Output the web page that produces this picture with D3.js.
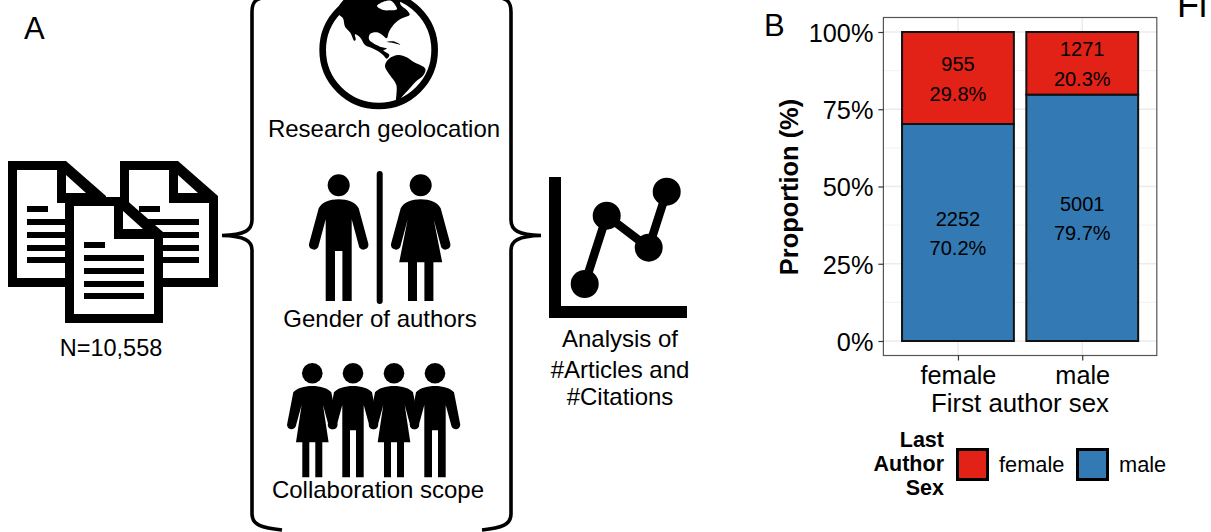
<!DOCTYPE html>
<html>
  <head>
    <title></title>
    <script src="https://d3js.org/d3.v7.min.js"></script>
    <style>
      html, body { margin: 0; background: #fff; }
      svg { display: block; }
      text { font-family: "Liberation Sans", Arial, sans-serif; fill: #000; }
      .grid-major { stroke: #ebebeb; stroke-width: 1.5; }
      .grid-minor { stroke: #efefef; stroke-width: 0.8; }
    </style>
  </head>
  <body>
    <script type="text/javascript">

    var width = 1211,
        height = 532;

    // panel B values: counts of last author sex per first author sex
    var firstAuthor = ["female", "male"];
    var lastAuthor = ["male", "female"];
    var maleLast = [2252, 5001];
    var femaleLast = [955, 1271];
    var maleLabels = ["70.2%", "79.7%"];
    var femaleLabels = ["29.8%", "20.3%"];
    var yTicks = [0, 0.25, 0.5, 0.75, 1];
    var yMinorTicks = [0.125, 0.375, 0.625, 0.875];
    var colors = {female: "#e22117", male: "#337ab4"};

    var svg = d3.select("body").append("svg")
        .attr("width", width)
        .attr("height", height);

    function label(s, x, y, size, anchor, bold) {
      return svg.append("text")
          .attr("x", x)
          .attr("y", y)
          .attr("font-size", size)
          .attr("text-anchor", anchor || "middle")
          .attr("font-weight", bold ? "bold" : null)
          .text(s);
    }

    // ---- panel A ----

    label("A", 24, 39, 31, "start");
    label("B", 764, 36, 31, "start");
    label("Fi", 1177, 17, 36, "start");

    function documentIcon(x, y) {
      var g = svg.append("g").attr("transform", "translate(" + x + "," + y + ")");
      g.append("path").attr("d", "M0,0H58L98,35V126H0Z").attr("fill", "#000");
      g.append("path").attr("d", "M9,9H49V42H89V117H9Z").attr("fill", "#fff");
      g.append("path").attr("d", "M58,14V32H78Z").attr("fill", "#fff");
      [[48, 40], [61, 60], [74, 60], [87, 60], [99, 60]].forEach(function(d) {
        g.append("rect")
            .attr("x", 19).attr("y", d[0] - 3)
            .attr("width", d[1] === 40 ? 21 : d[1]).attr("height", 6)
            .attr("fill", "#000");
      });
    }

    documentIcon(8, 161);
    documentIcon(120, 161);
    documentIcon(65, 197);

    // curly braces
    var braces = svg.append("g")
        .attr("fill", "none")
        .attr("stroke", "#000")
        .attr("stroke-width", 3.6);

    braces.append("path")
        .attr("d", "M262,-2C255,-1 252,3 252,12V220C252,230 245,235 222,235.5C245,236 252,241 252,250V514C252,525 262,528 282,530");
    braces.append("path")
        .attr("d", "M501,-2C508,-1 511,3 511,12V220C511,230 518,235 541,235.5C518,236 511,241 511,250V514C511,525 501,528 482,530");

    // globe
    var globe = svg.append("g").attr("transform", "translate(315,0) scale(0.3333)");
    globe.append("circle")
        .attr("cx", 191).attr("cy", 150).attr("r", 168)
        .attr("fill", "#fff").attr("stroke", "#000").attr("stroke-width", 20);

    var continentLine = d3.line().curve(d3.curveCatmullRomClosed.alpha(0.5));

    var northAmerica = [[66, 36], [84, 55], [90, 80], [106, 98], [118, 122], [122, 120], [120, 103], [135, 112],
      [150, 135], [175, 146], [192, 155], [205, 166], [215, 176], [223, 165], [205, 151], [216, 146], [195, 140],
      [175, 130], [162, 118], [165, 102], [185, 97], [202, 105], [215, 115], [222, 95], [240, 70], [258, 56],
      [284, 44], [275, 30], [258, 16], [250, -8], [180, -20], [100, -12]];
    var southAmerica = [[210, 198], [222, 176], [250, 165], [275, 172], [296, 186], [331, 206], [325, 226],
      [302, 245], [285, 264], [258, 294], [244, 312], [244, 255], [225, 226]];
    var hudson = [[186, 18], [205, 5], [228, 2], [240, 14], [246, 28], [225, 31], [205, 30]];
    var cuba = [[214, 126], [235, 124], [256, 134], [235, 129]];

    globe.append("path").attr("d", continentLine(northAmerica)).attr("fill", "#000");
    globe.append("path").attr("d", continentLine(southAmerica)).attr("fill", "#000");
    globe.append("path").attr("d", continentLine(hudson)).attr("fill", "#fff");
    globe.append("path").attr("d", continentLine(cuba)).attr("fill", "#000");

    label("Research geolocation", 384, 137, 24);

    // people, drawn around the head centre
    var manBody = "M0,14C9,14 17,17 20,23L29.5,58A5,5 0 0 1 20.5,62L13,34V115.7H3.7V65.7H-3.7V115.7H-13V34L-20.5,62A5,5 0 0 1 -29.5,58L-20,23C-17,17 -9,14 0,14Z";
    var womanBody = "M0,14C9,14 17,17 20,23L29.5,58A5,5 0 0 1 20.5,62L13,34L21.5,77H12.7V115.7H3.7V77H-3.7V115.7H-12.7V77H-21.5L-13,34L-20.5,62A5,5 0 0 1 -29.5,58L-20,23C-17,17 -9,14 0,14Z";
    // the holding hands group has its own narrower figures
    var groupMan = "M0,12.7C8,12.7 16,15 19,19L25,50A4.5,4.5 0 0 1 16.5,53L10.7,31.7V104H3V57H-3V104H-10.7V31.7L-16.5,53A4.5,4.5 0 0 1 -25,50L-19,19C-16,15 -8,12.7 0,12.7Z";
    var groupWoman = "M0,12.7C8,12.7 16,15 19,19L25,50A4.5,4.5 0 0 1 16.5,53L10.7,31.7L16.3,69H10V104H3V69H-3V104H-10V69H-16.3L-10.7,31.7L-16.5,53A4.5,4.5 0 0 1 -25,50L-19,19C-16,15 -8,12.7 0,12.7Z";

    function person(body, x, y, r) {
      var g = svg.append("g").attr("transform", "translate(" + x + "," + y + ")");
      g.append("circle").attr("r", r).attr("fill", "#000");
      g.append("path")
          .attr("d", body)
          .attr("fill", "#000");
    }

    person(manBody, 338.7, 185.3, 11);
    person(womanBody, 420.7, 185.3, 11);
    svg.append("line")
        .attr("x1", 379.7).attr("x2", 379.7)
        .attr("y1", 174).attr("y2", 301)
        .attr("stroke", "#000")
        .attr("stroke-width", 6)
        .attr("stroke-linecap", "round");
    label("Gender of authors", 380, 326.5, 24);

    person(groupWoman, 312.3, 373.3, 10.3);
    person(groupMan, 353, 373.3, 10.3);
    person(groupWoman, 394, 373.3, 10.3);
    person(groupMan, 435, 373.3, 10.3);
    label("Collaboration scope", 378, 498, 24);

    label("N=10,558", 111, 356, 23.5);

    // little line chart icon
    var icon = svg.append("g");
    icon.append("path")
        .attr("d", "M549,177H561V306H687V318H549Z")
        .attr("fill", "#000");
    var iconPoints = [[584.7, 284], [606.7, 215.7], [648.7, 247.7], [666.7, 191.7]];
    icon.append("path")
        .attr("d", d3.line()(iconPoints))
        .attr("fill", "none")
        .attr("stroke", "#000")
        .attr("stroke-width", 8.5);
    icon.selectAll("circle")
        .data(iconPoints)
        .enter().append("circle")
        .attr("cx", function(d) { return d[0]; })
        .attr("cy", function(d) { return d[1]; })
        .attr("r", 14)
        .attr("fill", "#000");

    label("Analysis of", 620, 347, 24);
    label("#Articles and", 620, 377.5, 24);
    label("#Citations", 620, 404.5, 24);

    // ---- panel B ----

    var panel = {left: 883.4, right: 1156.8, top: 17.5, bottom: 355.5};

    var x = d3.scalePoint()
        .domain(firstAuthor)
        .range([panel.left, panel.right])
        .padding(0.6);

    var y = d3.scaleLinear()
        .domain([0, 1])
        .range([341, 32]);

    var rows = firstAuthor.map(function(name, i) {
      return {name: name, male: maleLast[i], female: femaleLast[i],
              maleLabel: maleLabels[i], femaleLabel: femaleLabels[i]};
    });

    var series = d3.stack()
        .keys(lastAuthor)
        .offset(d3.stackOffsetExpand)(rows);

    var barWidth = x.step() * 0.9;

    svg.append("g").selectAll("line")
        .data(yMinorTicks)
        .enter().append("line")
        .attr("class", "grid-minor")
        .attr("x1", panel.left).attr("x2", panel.right)
        .attr("y1", y).attr("y2", y);

    svg.append("g").selectAll("line")
        .data(yTicks)
        .enter().append("line")
        .attr("class", "grid-major")
        .attr("x1", panel.left).attr("x2", panel.right)
        .attr("y1", y).attr("y2", y);

    svg.append("g").selectAll("line")
        .data(firstAuthor)
        .enter().append("line")
        .attr("class", "grid-major")
        .attr("x1", x).attr("x2", x)
        .attr("y1", panel.top).attr("y2", panel.bottom);

    series.forEach(function(s) {
      var bars = svg.append("g");

      bars.selectAll("rect")
          .data(s)
          .enter().append("rect")
          .attr("x", function(d) { return x(d.data.name) - barWidth / 2; })
          .attr("y", function(d) { return y(d[1]); })
          .attr("width", barWidth)
          .attr("height", function(d) { return y(d[0]) - y(d[1]); })
          .attr("fill", colors[s.key])
          .attr("stroke", "#111")
          .attr("stroke-width", 2);

      bars.selectAll(".count")
          .data(s)
          .enter().append("text")
          .attr("class", "count")
          .attr("x", function(d) { return x(d.data.name); })
          .attr("y", function(d) { return (y(d[0]) + y(d[1])) / 2 - 7; })
          .attr("text-anchor", "middle")
          .attr("font-size", 20)
          .text(function(d) { return d.data[s.key]; });

      bars.selectAll(".share")
          .data(s)
          .enter().append("text")
          .attr("class", "share")
          .attr("x", function(d) { return x(d.data.name); })
          .attr("y", function(d) { return (y(d[0]) + y(d[1])) / 2 + 22.5; })
          .attr("text-anchor", "middle")
          .attr("font-size", 20)
          .text(function(d) { return d.data[s.key + "Label"]; });
    });

    svg.append("rect")
        .attr("x", panel.left)
        .attr("y", panel.top)
        .attr("width", panel.right - panel.left)
        .attr("height", panel.bottom - panel.top)
        .attr("fill", "none")
        .attr("stroke", "#555")
        .attr("stroke-width", 1.2);

    var yAxis = svg.append("g")
        .attr("transform", "translate(" + panel.left + ",0)")
        .call(d3.axisLeft(y)
            .tickValues(yTicks)
            .tickFormat(d3.format(".0%"))
            .tickSize(5)
            .tickPadding(5));

    var xAxis = svg.append("g")
        .attr("transform", "translate(0," + panel.bottom + ")")
        .call(d3.axisBottom(x)
            .tickSize(5)
            .tickPadding(6));

    [yAxis, xAxis].forEach(function(axis) {
      axis.select(".domain").remove();
      axis.selectAll("line").attr("stroke", "#333").attr("stroke-width", 1.2);
      axis.selectAll("text")
          .attr("font-size", 25.3)
          .attr("fill", "#000");
      axis.attr("font-family", null).attr("font-size", null);
    });
    yAxis.selectAll("text").attr("dy", "0.37em");

    label("First author sex", 1020, 412, 25.8);

    label("Proportion (%)", 0, 0, 25.4, "middle", true)
        .attr("transform", "translate(798,187) rotate(-90)");

    // legend
    label("Last", 944, 447, 21.5, "end", true);
    label("Author", 944, 471, 21.5, "end", true);
    label("Sex", 944, 495, 21.5, "end", true);

    var legendX = d3.scaleOrdinal()
        .domain(["female", "male"])
        .range([957.5, 1077.5]);

    ["female", "male"].forEach(function(name) {
      svg.append("rect")
          .attr("x", legendX(name))
          .attr("y", 449.5)
          .attr("width", 30)
          .attr("height", 30)
          .attr("fill", colors[name])
          .attr("stroke", "#000")
          .attr("stroke-width", 3);
      label(name, legendX(name) + 41.5, 472, 21.8, "start");
    });

    </script>
  </body>
</html>
